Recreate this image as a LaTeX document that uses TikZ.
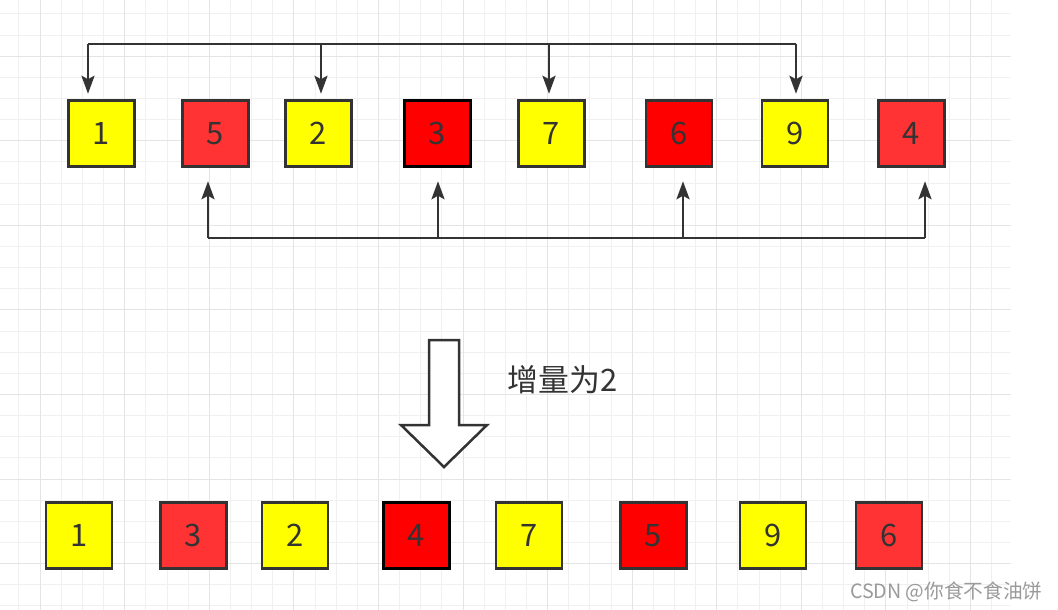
\documentclass[tikz,border=0pt]{standalone}
\usepackage{fontspec}
\setmainfont{Noto Sans CJK SC}
\usetikzlibrary{arrows.meta}
\definecolor{line}{HTML}{333333}
\definecolor{gridMinor}{HTML}{F0F0F0}
\definecolor{gridMajor}{HTML}{E4E4E4}
\definecolor{cellY}{HTML}{FFFF00}
\definecolor{cellR}{HTML}{FF3333}
\definecolor{cellD}{HTML}{FF0000}
\definecolor{wmark}{HTML}{9A9A9A}

\begin{document}
\begin{tikzpicture}[
  x=0.02cm, y=-0.02cm,
  font=\fontsize{17.6}{20}\selectfont,
  cell/.style={draw=line, line width=0.05cm, minimum size=1.32cm,
    inner sep=0pt, text=line},
  yel/.style={cell, fill=cellY},
  lred/.style={cell, fill=cellR},
  dred/.style={cell, fill=cellD},
  flow/.style={-{Stealth[length=0.36cm, width=0.26cm, inset=0.07cm]},
    line width=0.05cm, draw=line},
  bus/.style={line width=0.05cm, draw=line}
]
  \useasboundingbox (0,0) rectangle (1058,609);
  \fill[white] (0,0) rectangle (1058,609);

  % background grid
  \begin{scope}
    \clip (0,0) rectangle (1010.7,609);
    \draw[gridMinor, line width=0.02cm, shift={(-2.15,-7.25)}, step=0.423cm] (0,0) grid (1060,640);
    \draw[gridMajor, line width=0.02cm, shift={(-44.45,-28.4)}, step=1.692cm] (0,0) grid (1100,660);
  \end{scope}

  % before
  \node[yel]  (t1) at (101.5,133.5) {1};
  \node[lred] (t2) at (215.5,133.5) {5};
  \node[yel]  (t3) at (318.5,133.5) {2};
  \node[dred, draw=black] (t4) at (437.5,133.5) {3};
  \node[yel]  (t5) at (551.5,133.5) {7};
  \node[dred] (t6) at (679,133.5) {6};
  \node[yel]  (t7) at (795,133.5) {9};
  \node[lred] (t8) at (911.5,133.5) {4};

  % group one, gap 2
  \coordinate (up1) at (88,44);
  \coordinate (up2) at (321,44);
  \coordinate (up3) at (549,44);
  \coordinate (up4) at (796,44);
  \draw[bus] (up1) -- (up4);
  \draw[flow, shorten >=0.11cm] (up1) -- (up1 |- t1.north);
  \draw[flow, shorten >=0.11cm] (up2) -- (up2 |- t3.north);
  \draw[flow, shorten >=0.11cm] (up3) -- (up3 |- t5.north);
  \draw[flow, shorten >=0.11cm] (up4) -- (up4 |- t7.north);

  % group two, gap 2
  \coordinate (lo1) at (208,238);
  \coordinate (lo2) at (438,238);
  \coordinate (lo3) at (683,238);
  \coordinate (lo4) at (925,238);
  \draw[bus] (lo1) -- (lo4);
  \draw[flow, shorten >=0.27cm] (lo1) -- (lo1 |- t2.south);
  \draw[flow, shorten >=0.27cm] (lo2) -- (lo2 |- t4.south);
  \draw[flow, shorten >=0.27cm] (lo3) -- (lo3 |- t6.south);
  \draw[flow, shorten >=0.27cm] (lo4) -- (lo4 |- t8.south);

  % step arrow
  \draw[line width=0.05cm, draw=line, fill=white, line join=miter]
    (429,340) -- (459,340) -- (459,425) -- (487,425) -- (444,467)
    -- (401,425) -- (429,425) -- cycle;
  \node[anchor=west, text=line, inner sep=0pt] (gap) at (507,380) {增量为2};

  % after
  \node[yel]  (s1) at (79,535.5) {1};
  \node[lred] (s2) at (193.5,535.5) {3};
  \node[yel]  (s3) at (295,535.5) {2};
  \node[dred, draw=black] (s4) at (416.5,535.5) {4};
  \node[yel]  (s5) at (529,535.5) {7};
  \node[dred] (s6) at (653.5,535.5) {5};
  \node[yel]  (s7) at (773,535.5) {9};
  \node[lred] (s8) at (889,535.5) {6};

  \node[anchor=east, text=wmark, inner sep=0pt, font=\fontsize{11.2}{13}\selectfont]
    (credit) at (1043,592) {CSDN @你食不食油饼};
\end{tikzpicture}
\end{document}
